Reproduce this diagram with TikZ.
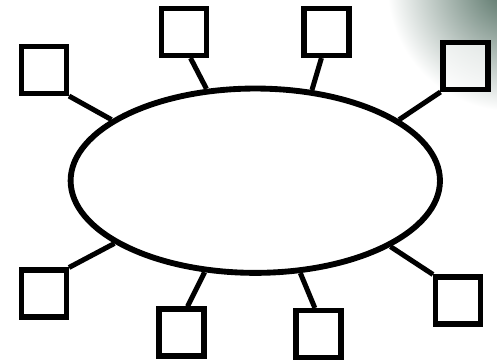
\documentclass[tikz,border=0pt]{standalone}
\usepackage{tikz}
\usetikzlibrary{shapes.geometric}
\definecolor{cornergreen}{RGB}{75,105,92}

\begin{document}
\begin{tikzpicture}[x=0.03cm, y=-0.03cm, line join=miter,
    hub/.style={draw, fill=white, ellipse, line width=5pt, inner sep=0pt,
        minimum width=11.08cm, minimum height=5.53cm},
    box/.style={draw, fill=white, fill opacity=0.7, rectangle, line width=4.3pt,
        inner sep=0pt, minimum width=1.35cm, minimum height=1.41cm},
    link/.style={line width=4.3pt}]

    % canvas is 497 x 361 (one unit = one pixel of the reference)
    \useasboundingbox (0, 0) rectangle (497, 361);

    % shaded corner at the top right
    \begin{scope}
        \clip (0, 0) rectangle (497, 361);
        \shade[inner color=cornergreen, outer color=white] (512, -14) circle (125);
    \end{scope}

    % the big ellipse in the middle
    \node[hub] (H) at (255.3, 180.7) {};

    % boxes, top row and bottom row
    \node[box] (TL) at (44, 70) {};
    \node[box] (T1) at (184, 32) {};
    \node[box] (T2) at (326.5, 32) {};
    \node[box] (TR) at (465.5, 66) {};
    \node[box] (BL) at (44, 293.5) {};
    \node[box] (B1) at (181.5, 332.5) {};
    \node[box] (B2) at (318.5, 334) {};
    \node[box] (BR) at (458, 300.5) {};

    % spokes from each box to the ellipse
    \draw[link] (TL.south east) -- (H.157);
    \draw[link] (T1.-76) -- (H.118);
    \draw[link] (T2.-101) -- (H.58.9);
    \draw[link] (TR.south west) -- (H.23.9);
    \draw[link] (BL.north east) -- (H.204);
    \draw[link] (B1.77) -- (H.241.1);
    \draw[link] (B2.98.5) -- (H.296.1);
    \draw[link] (BR.north west) -- (H.334.1);

\end{tikzpicture}
\end{document}
